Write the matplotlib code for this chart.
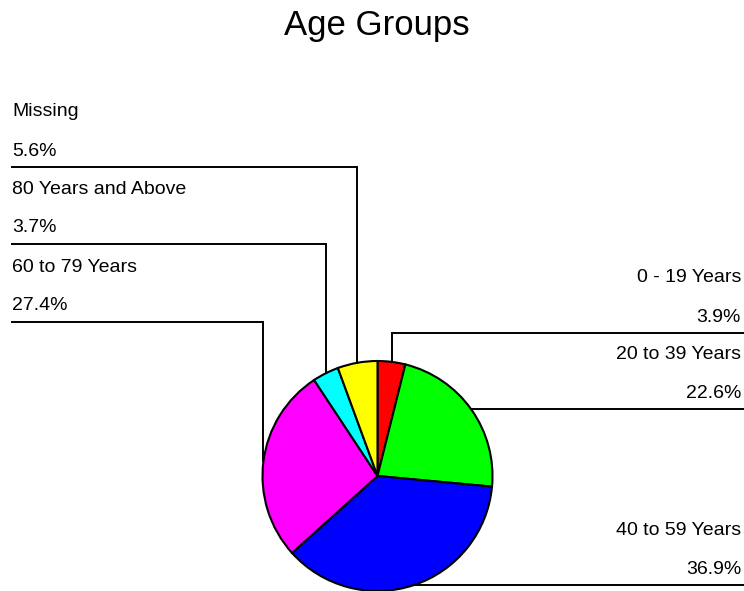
import numpy as np
import matplotlib
matplotlib.use('Agg')
import matplotlib.pyplot as plt

plt.rcParams['font.family'] = ['Liberation Sans', 'DejaVu Sans']

# data, clockwise from 12 o'clock
groups = ['0 - 19 Years', '20 to 39 Years', '40 to 59 Years',
          '60 to 79 Years', '80 Years and Above', 'Missing']
percents = [3.9, 22.6, 36.9, 27.4, 3.7, 5.6]
colors = ['#ff0000', '#00ff00', '#0000ff', '#ff00ff', '#00ffff', '#ffff00']

# layout (pixels from top): level of each horizontal leader, None = straight across
leader_y = [333, None, None, 322, 244, 167]
side = ['right', 'right', 'right', 'left', 'left', 'left']

W, H = 744, 591
fig = plt.figure(figsize=(W / 100, H / 100), dpi=100)
ax = fig.add_axes([0, 0, 1, 1])

cx, cy, r = 377.5, H - 476, 115
wedges, _ = ax.pie(percents, colors=colors, startangle=90, counterclock=False,
                   center=(cx, cy), radius=r,
                   wedgeprops=dict(edgecolor='black', linewidth=1.5))

ax.set_xlim(0, W)
ax.set_ylim(0, H)
ax.set_aspect('equal')
ax.axis('off')

fs = 14
for w, name, pct, ly, sd in zip(wedges, groups, percents, leader_y, side):
    mid = np.deg2rad((w.theta1 + w.theta2) / 2)
    mx = cx + r * np.cos(mid)
    my = cy + r * np.sin(mid)
    lvl = my if ly is None else H - ly
    xe = W if sd == 'right' else 12
    ax.plot([mx, mx, xe], [my, lvl, lvl], color='black', lw=1.4,
            solid_joinstyle='miter')
    if sd == 'right':
        tx, ha = W - 3, 'right'
    else:
        tx, ha = 12, 'left'
    ax.text(tx, lvl + 55, name, ha=ha, va='center', fontsize=fs)
    ax.text(tx, lvl + 16, f'{pct:.1f}%', ha=ha, va='center', fontsize=fs)

ax.text(W / 2 + 5, H - 25, 'Age Groups', ha='center', va='center', fontsize=25)

fig.savefig('out.png', dpi=100)
